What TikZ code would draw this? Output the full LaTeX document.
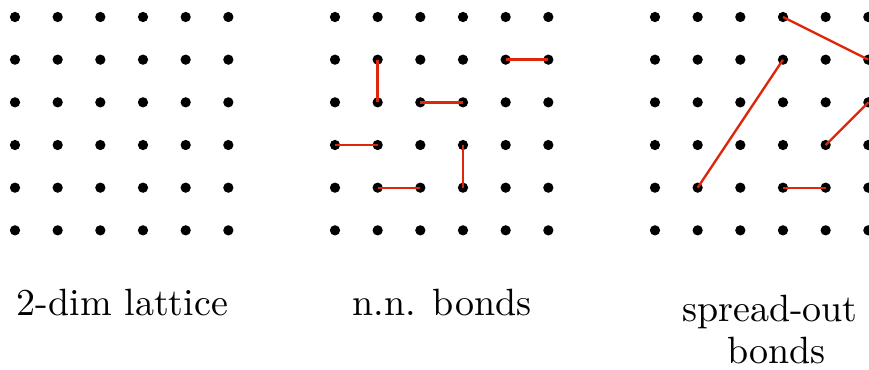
\documentclass[tikz,border=0pt]{standalone}
\definecolor{bondred}{RGB}{222,38,12}
\begin{document}
\begin{tikzpicture}[x=0.2632pt,y=-0.2632pt,
  dot/.style={circle,fill=black,inner sep=0pt,minimum size=2.7pt},
  bond/.style={draw=bondred,line width=0.62pt},
  lbl/.style={font=\fontsize{10}{11.3}\selectfont,align=center,inner sep=0pt}]
\useasboundingbox (0,0) rectangle (869,370);
\foreach \k in {0,1,2}
  \foreach \i in {0,...,5}
    \foreach \j in {0,...,5}
      \node[dot] (d\k-\i-\j) at ({15+320*\k+42.67*\i},{17+42.67*\j}) {};
% nearest-neighbour bonds
\draw[bond] (d1-4-1.center) -- (d1-5-1.center);
\draw[bond] (d1-1-1.center) -- (d1-1-2.center);
\draw[bond] (d1-2-2.center) -- (d1-3-2.center);
\draw[bond] (d1-0-3.center) -- (d1-1-3.center);
\draw[bond] (d1-3-3.center) -- (d1-3-4.center);
\draw[bond] (d1-1-4.center) -- (d1-2-4.center);
% spread-out bonds
\draw[bond] (d2-3-0.center) -- (d2-5-1.center);
\draw[bond] (d2-3-1.center) -- (d2-1-4.center);
\draw[bond] (d2-4-3.center) -- (d2-5-2.center);
\draw[bond] (d2-3-4.center) -- (d2-4-4.center);
% labels
\node[lbl,anchor=base] (l1) at (122.5,316) {2-dim lattice};
\node[lbl,anchor=base] (l2) at (442,316) {n.n. bonds};
\node[lbl,anchor=base] (l3) at (770,364) {spread-out\\\hspace*{3.33pt}bonds};
\end{tikzpicture}
\end{document}
